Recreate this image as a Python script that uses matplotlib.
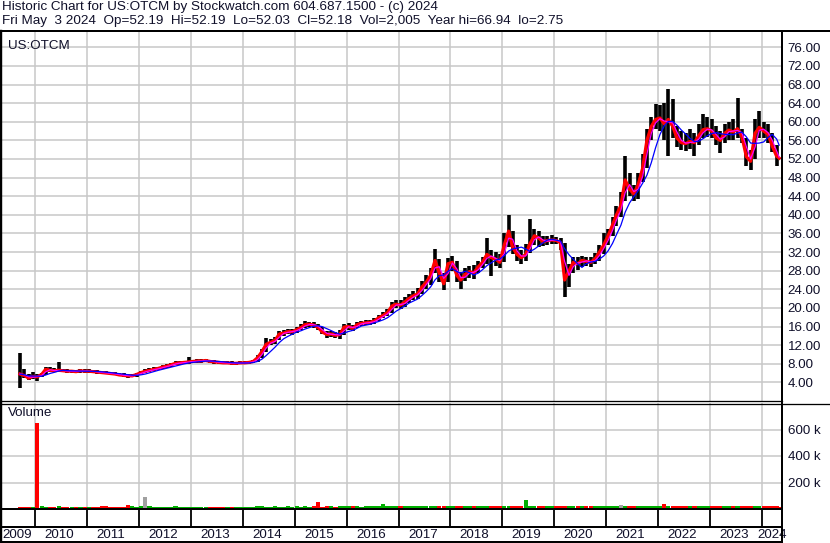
import numpy as np
import pandas as pd
import matplotlib
matplotlib.use("Agg")
import matplotlib.pyplot as plt
import matplotlib.dates as mdates
from matplotlib.lines import Line2D

plt.rcParams['font.family'] = ['Liberation Sans', 'DejaVu Sans']

# monthly bars, Sep 2009 .. May 2024
close_px = [
    5.8, 5.5, 4.9, 5.3,                                                      # 2009 Sep-Dec
    5.2, 5.7, 6.8, 6.6, 6.5, 6.6, 6.5, 6.4, 6.4, 6.3, 6.5, 6.4,              # 2010
    6.4, 6.3, 6.2, 6.1, 6.0, 5.9, 5.8, 5.6, 5.5, 5.4, 5.4, 5.7,              # 2011
    6.1, 6.4, 6.6, 6.8, 7.0, 7.3, 7.5, 7.8, 8.1, 8.2, 8.3, 8.4,              # 2012
    8.5, 8.6, 8.6, 8.7, 8.5, 8.4, 8.3, 8.2, 8.2, 8.1, 8.1, 8.2,              # 2013
    8.2, 8.3, 8.5, 9.3, 10.6, 12.2, 12.6, 13.0, 14.4, 14.6, 14.9, 14.9,      # 2014
    15.3, 15.8, 16.4, 16.5, 16.3, 15.8, 14.8, 14.3, 14.4, 14.1, 14.3, 15.9,  # 2015
    16.0, 15.6, 16.4, 16.7, 16.8, 16.9, 17.2, 17.9, 18.4, 19.0, 20.4, 20.8,  # 2016
    20.6, 21.3, 22.0, 22.6, 23.0, 24.5, 25.5, 27.0, 30.2, 27.5, 25.2, 29.5,  # 2017
    29.8, 27.0, 26.0, 27.2, 27.8, 27.5, 28.8, 29.8, 31.5, 30.8, 30.5, 29.8,  # 2018
    33.5, 36.5, 33.0, 31.5, 30.8, 31.5, 33.8, 35.5, 35.0, 34.2, 34.5, 34.6,  # 2019
    34.5, 34.0, 26.0, 28.0, 29.8, 29.5, 30.2, 30.0, 29.8, 30.5, 32.0, 33.5,  # 2020
    35.5, 37.8, 40.0, 42.0, 47.5, 45.5, 44.5, 46.5, 50.0, 56.0, 59.0, 60.5,  # 2021
    60.8, 59.5, 60.5, 59.0, 56.5, 55.5, 55.3, 55.8, 55.5, 57.0, 58.3, 58.5,  # 2022
    58.0, 56.5, 56.0, 57.5, 58.2, 57.8, 58.5, 56.8, 52.5, 51.5, 57.5, 58.8,  # 2023
    58.0, 57.3, 54.8, 52.6, 52.18,                                           # 2024 Jan-May
]
high_px = [
    10.4, 6.8, 5.9, 6.2,
    5.9, 6.0, 7.4, 7.2, 7.0, 8.3, 6.9, 6.8, 6.7, 6.7, 6.8, 6.8,
    6.8, 6.7, 6.6, 6.5, 6.4, 6.3, 6.2, 6.1, 6.0, 5.9, 5.8, 6.0,
    6.4, 6.9, 7.1, 7.2, 7.4, 7.7, 7.9, 8.2, 8.5, 8.6, 8.6, 9.4,
    8.9, 9.0, 9.0, 9.1, 8.9, 8.8, 8.7, 8.6, 8.5, 8.5, 8.4, 8.5,
    8.5, 8.6, 8.9, 9.8, 11.2, 13.6, 13.4, 13.8, 15.0, 15.2, 15.5, 15.4,
    15.9, 16.5, 17.2, 17.0, 16.9, 16.6, 15.9, 15.0, 15.0, 14.8, 15.2, 16.6,
    16.7, 16.3, 16.9, 17.2, 17.3, 17.5, 17.8, 18.5, 19.1, 19.8, 21.2, 21.6,
    21.8, 22.3, 23.0, 23.6, 24.3, 25.8, 27.0, 28.5, 32.6, 30.5, 27.5, 30.8,
    31.2, 30.0, 27.8, 28.5, 29.0, 29.3, 30.0, 31.0, 35.0, 32.5, 32.0, 31.5,
    36.0, 40.0, 36.5, 33.5, 32.5, 33.8, 39.0, 37.0, 36.5, 35.5, 35.5, 35.6,
    35.3, 35.0, 34.0, 29.5, 31.0, 31.0, 31.2, 31.0, 31.0, 31.8, 33.5, 36.0,
    37.0, 39.5, 42.0, 45.0, 52.7, 49.0, 46.5, 49.0, 53.0, 58.5, 61.0, 63.8,
    63.5, 64.0, 66.94, 64.8, 59.0, 58.0, 57.5, 58.5, 57.5, 59.5, 61.6, 61.0,
    60.5, 59.0, 58.0, 59.5, 60.0, 60.5, 65.0, 58.5, 56.5, 54.0, 60.5, 62.3,
    60.0, 59.5, 57.5, 55.0, 52.19,
]
low_px = [
    2.9, 4.9, 4.5, 4.7,
    4.3, 5.2, 5.6, 6.3, 6.2, 6.2, 6.2, 6.1, 6.1, 6.0, 6.1, 6.1,
    6.1, 6.0, 5.9, 5.8, 5.7, 5.6, 5.5, 5.3, 5.2, 5.0, 5.1, 5.2,
    5.7, 6.0, 6.2, 6.4, 6.6, 6.9, 7.1, 7.4, 7.7, 7.8, 7.9, 8.0,
    8.1, 8.2, 8.2, 8.3, 8.2, 8.0, 8.0, 7.9, 7.9, 7.8, 7.8, 7.9,
    7.9, 8.0, 8.1, 8.4, 9.2, 10.5, 12.0, 12.3, 13.0, 14.0, 14.3, 14.2,
    14.7, 15.2, 15.6, 15.8, 15.7, 15.3, 14.3, 13.6, 13.8, 13.5, 13.4, 14.2,
    15.3, 15.0, 15.6, 16.2, 16.3, 16.4, 16.6, 17.2, 17.8, 18.3, 19.0, 20.0,
    19.8, 20.3, 21.0, 21.6, 22.0, 23.0, 24.0, 25.0, 27.5, 25.5, 23.8, 25.5,
    28.0, 25.5, 24.0, 25.8, 26.5, 26.2, 27.5, 28.5, 29.5, 26.8, 29.0, 28.5,
    29.8, 33.0, 31.5, 30.0, 29.5, 30.0, 31.8, 33.5, 33.0, 33.2, 33.5, 33.8,
    33.8, 32.5, 22.3, 24.5, 27.5, 28.2, 28.8, 29.0, 28.8, 29.5, 30.0, 31.5,
    33.5, 35.5, 37.5, 39.5, 43.0, 44.0, 43.0, 43.5, 47.0, 50.0, 56.0, 58.5,
    58.0, 56.0, 52.7, 56.5, 54.5, 54.0, 53.8, 54.2, 52.7, 55.0, 56.5, 56.8,
    56.5, 55.0, 53.2, 55.5, 56.0, 56.0, 56.5, 55.5, 50.5, 49.6, 52.0, 56.5,
    56.5, 55.5, 53.5, 50.5, 52.03,
]
# typical daily volume per month, thousands
volume_k = [
    16, 18, 15, 17,
    650, 20, 18, 17, 16, 22, 17, 16, 18, 17, 16, 17,
    17, 18, 16, 23, 20, 17, 18, 16, 17, 32, 22, 17,
    20, 87, 22, 18, 17, 16, 18, 17, 19, 17, 18, 16,
    17, 18, 16, 17, 18, 16, 17, 18, 16, 17, 18, 17,
    18, 17, 16, 20, 24, 18, 17, 19, 18, 17, 20, 18,
    19, 18, 20, 18, 19, 54, 18, 20, 19, 18, 20, 21,
    20, 19, 20, 18, 19, 20, 21, 22, 38, 20, 19, 20,
    20, 21, 19, 20, 22, 20, 21, 20, 23, 22, 24, 21,
    22, 21, 20, 22, 21, 20, 21, 22, 23, 21, 22, 20,
    21, 24, 22, 21, 20, 70, 22, 21, 20, 21, 20, 21,
    21, 22, 26, 22, 21, 20, 21, 20, 21, 22, 21, 23,
    22, 21, 22, 32, 24, 23, 22, 21, 23, 24, 22, 23,
    23, 36, 26, 23, 22, 21, 22, 21, 22, 23, 22, 21,
    22, 21, 23, 22, 21, 22, 23, 21, 24, 22, 23, 22,
    23, 22, 21, 20, 12,
]
gray_months = ['2012-02', '2021-04']

price_ticks = list(range(4, 80, 4))
vol_ticks = [200000, 400000, 600000]
vol_labels = ['200 k', '400 k', '600 k']
years = list(range(2009, 2025))

title1 = "Historic Chart for US:OTCM by Stockwatch.com 604.687.1500 - (c) 2024"
title2 = ("Fri May  3 2024  Op=52.19  Hi=52.19  Lo=52.03  Cl=52.18  "
          "Vol=2,005  Year hi=66.94  lo=2.75")

# ---------------------------------------------------------------
months = pd.date_range('2009-09-01', '2024-05-01', freq='MS')
xpos = mdates.date2num(months + pd.Timedelta(days=14))
xpos[-1] = mdates.date2num(pd.Timestamp('2024-05-03'))
close = pd.Series(close_px)
ma_short = close.rolling(2, min_periods=1).mean()
ma_long = close.rolling(5, min_periods=1).mean()

vol = np.array(volume_k) * 1000.0
vcol = ['#00b000' if i > 0 and close_px[i] >= close_px[i - 1] else '#ff0000'
        for i in range(len(close_px))]
for i, m in enumerate(months):
    if m.strftime('%Y-%m') in gray_months:
        vcol[i] = '#a0a0a0'

W, H = 830, 543
fig = plt.figure(figsize=(W / 100, H / 100), dpi=100)
tc = '#10102a'
fs = 9.6
x0 = mdates.date2num(pd.Timestamp('2009-05-12'))
x1 = mdates.date2num(pd.Timestamp('2024-05-23'))
year_x = [mdates.date2num(pd.Timestamp(f'{y}-01-01')) for y in years[1:]]


def fx(px):
    return px / W


def fy(py):
    return 1 - py / H


ax_p = fig.add_axes([fx(2), fy(401), fx(780), 370 / H])
ax_v = fig.add_axes([fx(2), fy(509), fx(780), 106 / H])
ax_d = fig.add_axes([fx(2), fy(542), fx(780), 33 / H])

for ax in (ax_p, ax_v, ax_d):
    ax.set_xlim(x0, x1)
    for s in ax.spines.values():
        s.set_visible(False)
    ax.tick_params(length=0)
    ax.set_xticks([])

# price panel
ax_p.set_ylim(0, 79.5)
ax_p.set_yticks(price_ticks)
ax_p.set_yticklabels([f'{v:.2f}' for v in price_ticks], fontsize=fs, color=tc)
ax_p.yaxis.tick_right()
ax_p.tick_params(axis='y', pad=4)
for xv in year_x:
    ax_p.axvline(xv, color='#c8c8c8', lw=1.1, zorder=0)
for yv in price_ticks:
    ax_p.axhline(yv, color='#c8c8c8', lw=1.1, zorder=0)
ax_p.vlines(xpos, low_px, high_px, color='black', lw=2.6, zorder=2)
ax_p.plot(xpos, close_px, color='#ff0000', lw=2.3, zorder=3)
ax_p.plot(xpos, ma_short, color='#ff00ff', lw=0.9, zorder=4)
ax_p.plot(xpos, ma_long, color='#0000ff', lw=0.9, zorder=5)
ax_p.text(0.008, 0.975, 'US:OTCM', transform=ax_p.transAxes, fontsize=fs,
          color=tc, va='top', ha='left')

# volume panel
ax_v.set_ylim(0, 800000)
ax_v.set_yticks(vol_ticks)
ax_v.set_yticklabels(vol_labels, fontsize=fs, color=tc)
ax_v.yaxis.tick_right()
ax_v.tick_params(axis='y', pad=4)
for xv in year_x:
    ax_v.axvline(xv, color='#c8c8c8', lw=1.1, zorder=0)
for yv in vol_ticks:
    ax_v.axhline(yv, color='#c8c8c8', lw=1.1, zorder=0)
ax_v.bar(xpos, vol, width=30, color=vcol, zorder=2)
ax_v.text(0.008, 0.96, 'Volume', transform=ax_v.transAxes, fontsize=fs,
          color=tc, va='top', ha='left')

# date strip
ax_d.set_ylim(0, 1)
ax_d.set_yticks([])
ax_d.vlines(year_x, 0.4545, 1, color='black', lw=1.3)
for y in years:
    if y == 2009:
        xl = x0 + 3
    elif y == 2024:
        xl = mdates.date2num(pd.Timestamp('2023-12-05'))
    else:
        xl = mdates.date2num(pd.Timestamp(f'{y}-01-01')) + 66
    ax_d.text(xl, 0.22, str(y), fontsize=fs, color=tc, va='center', ha='left')

# frame lines (pixel positions)
frame = [
    ((0, 830), (31, 31), 2.0),
    ((1, 1), (31, 542), 2.4),
    ((782, 782), (31, 542), 2.0),
    ((0, 782), (401, 401), 1.3),
    ((0, 830), (403.5, 403.5), 1.3),
    ((0, 782), (509, 509), 2.0),
    ((0, 782), (527, 527), 2.0),
    ((0, 782), (542, 542), 2.0),
]
for (xa, xb), (ya, yb), lw in frame:
    fig.add_artist(Line2D([fx(xa), fx(xb)], [fy(ya), fy(yb)], color='black',
                          lw=lw * 0.72, transform=fig.transFigure))

fig.text(fx(2), fy(1), title1, fontsize=9.7, color=tc, va='top', ha='left')
fig.text(fx(2), fy(15), title2, fontsize=9.7, color=tc, va='top', ha='left')

fig.savefig('out.png', dpi=100)
